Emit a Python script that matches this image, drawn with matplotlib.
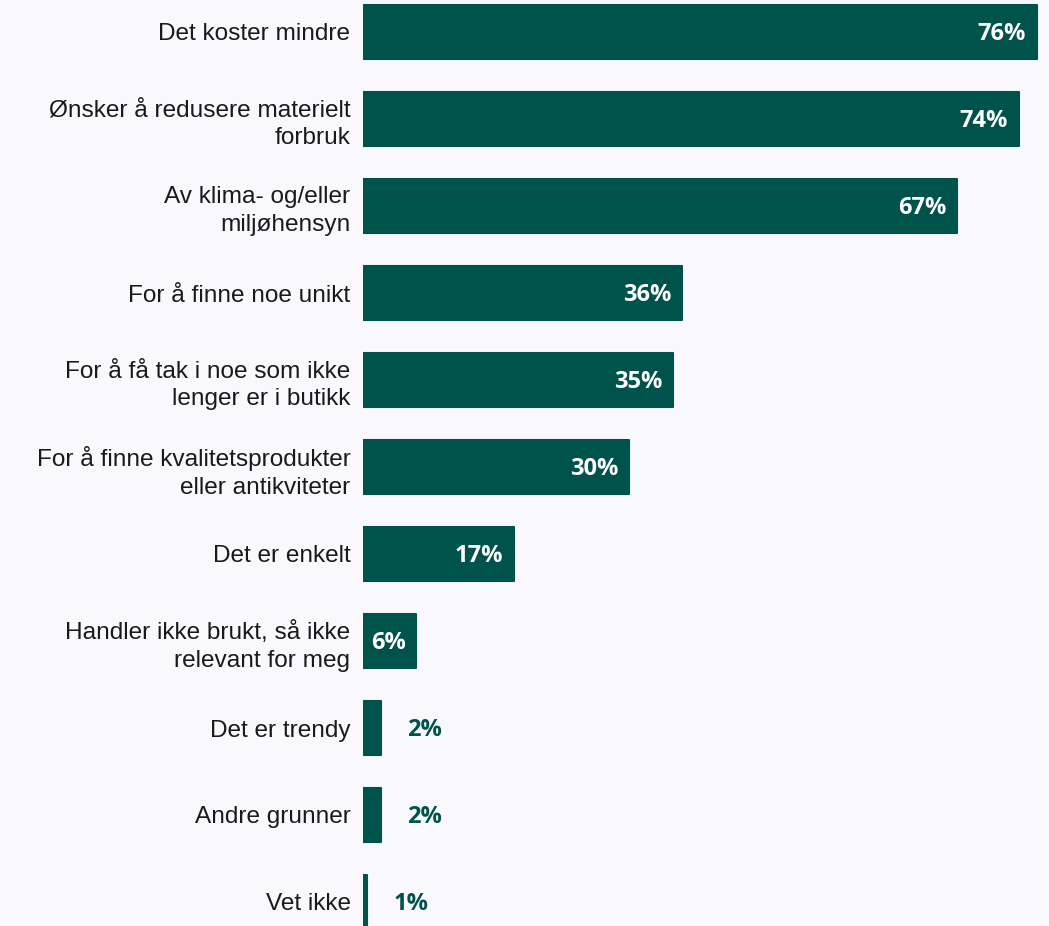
import matplotlib
matplotlib.use("Agg")
import matplotlib.pyplot as plt
from matplotlib import font_manager

categories = [
    "Det koster mindre",
    "Ønsker å redusere materielt\nforbruk",
    "Av klima- og/eller\nmiljøhensyn",
    "For å finne noe unikt",
    "For å få tak i noe som ikke\nlenger er i butikk",
    "For å finne kvalitetsprodukter\neller antikviteter",
    "Det er enkelt",
    "Handler ikke brukt, så ikke\nrelevant for meg",
    "Det er trendy",
    "Andre grunner",
    "Vet ikke",
]
values = [76, 74, 67, 36, 35, 30, 17, 6, 2, 2, 0.5]
value_labels = ["76%", "74%", "67%", "36%", "35%", "30%", "17%", "6%", "2%", "2%", "1%"]

BG = "#f8f8fd"
BAR = "#00534a"

# pick the regular (not narrow) Liberation Sans file
label_font = None
for f in font_manager.fontManager.ttflist:
    if f.name == "Liberation Sans" and f.style == "normal" and f.weight in (400, "normal") \
            and "Narrow" not in f.fname:
        label_font = font_manager.FontProperties(fname=f.fname, size=17.6)
        break
if label_font is None:
    label_font = font_manager.FontProperties(family="DejaVu Sans", size=17)

fig = plt.figure(figsize=(10.49, 9.26), dpi=100, facecolor=BG)
ax = fig.add_axes([363 / 1049, 0, 1 - 363 / 1049, 1])
ax.set_facecolor(BG)

pos = list(range(len(values)))
ax.barh(pos, values, height=0.62, color=BAR, edgecolor=BAR,
        linewidth=1.5, joinstyle="round")

ax.set_xlim(0, 77.4)
ax.set_ylim(10 + 24 / 87, -32 / 87)

for spine in ax.spines.values():
    spine.set_visible(False)
ax.set_xticks([])
ax.set_yticks(pos)
ax.set_yticklabels(categories, fontproperties=label_font,
                   color="#1a1a1a", linespacing=1.35)
ax.tick_params(axis="y", length=0, pad=9)
for lbl in ax.get_yticklabels():
    lbl.set_horizontalalignment("right")

for y, v, t in zip(pos, values, value_labels):
    if v >= 5:
        ax.text(v - 1.2, y + 0.02, t, ha="right", va="center", color="white",
                fontsize=17, fontweight="bold", family="Open Sans")
    else:
        ax.text(v + 3.0, y + 0.02, t, ha="left", va="center", color=BAR,
                fontsize=17, fontweight="bold", family="Open Sans")

fig.savefig("out.png", dpi=100, facecolor=BG)
